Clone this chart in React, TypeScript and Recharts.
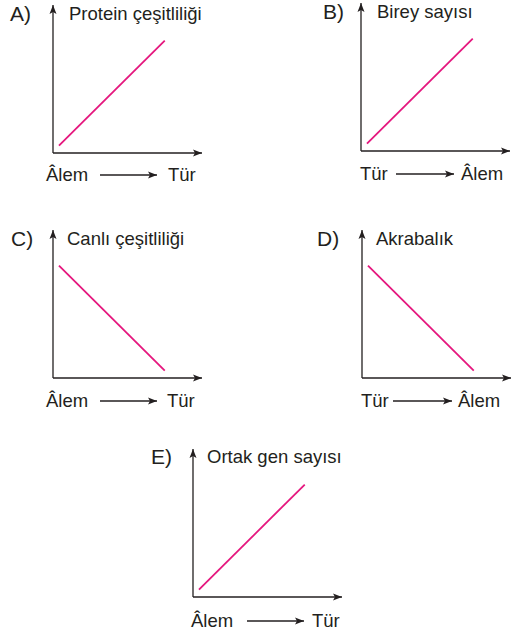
import React from 'react';
import { LineChart, Line, XAxis, YAxis } from 'recharts';

// ---- data ----
const LETTERS = ['A)', 'B)', 'C)', 'D)', 'E)'];
const TITLES = ['Protein çeşitliliği', 'Birey sayısı', 'Canlı çeşitliliği', 'Akrabalık', 'Ortak gen sayısı'];
const FROM_LABELS = ['Âlem', 'Tür', 'Âlem', 'Tür', 'Âlem'];
const TO_LABELS = ['Tür', 'Âlem', 'Tür', 'Âlem', 'Tür'];
const X_VALUES = [4, 75];
const RISING = [5, 76];
const FALLING = [76, 5];
const SERIES = [RISING, RISING, FALLING, FALLING, RISING];

// ---- styling / layout ----
const INK = '#231f20';
const MAGENTA = '#e5177e';
const FONT = '"Liberation Sans", Arial, Helvetica, sans-serif';
const W = 215;
const H = 192;

const LAYOUT = [
  { left: 0, top: 0, letterX: 10, titleX: 69, titleY: 20, fromX: 46, arrow: [100, 157], toX: 168, labelY: 181 },
  { left: 308, top: -2, letterX: 15, titleX: 69, titleY: 20, fromX: 52, arrow: [88, 146], toX: 153, labelY: 182 },
  { left: 0, top: 225, letterX: 11, titleX: 67, titleY: 20, fromX: 46, arrow: [100, 157], toX: 167, labelY: 182 },
  { left: 309, top: 225, letterX: 8, titleX: 67, titleY: 20, fromX: 52, arrow: [84, 143], toX: 149, labelY: 182 },
  { left: 140, top: 444, letterX: 11, titleX: 67, titleY: 19, fromX: 51, arrow: [107, 164], toX: 172, labelY: 183 },
];

function Panel({ i }: { i: number }) {
  const p = LAYOUT[i];
  const data = X_VALUES.map((x, k) => ({ x, y: SERIES[i][k] }));
  const id = `arrow-${i}`;
  return (
    <div style={{ position: 'absolute', left: p.left, top: p.top, width: W, height: H }}>
      <LineChart width={W} height={H} data={data} margin={{ top: 5, right: 13, left: 52, bottom: 38 }}>
        <defs>
          <marker
            id={id}
            markerUnits="userSpaceOnUse"
            markerWidth={10}
            markerHeight={8}
            refX={9}
            refY={4}
            orient="auto-start-reverse"
          >
            <path d="M0,0.5 L9,4 L0,7.5 L2,4 z" fill={INK} />
          </marker>
        </defs>
        <XAxis
          type="number"
          dataKey="x"
          domain={[0, 100]}
          tick={false}
          tickLine={false}
          height={1}
          axisLine={{ stroke: INK, strokeWidth: 1.3, markerEnd: `url(#${id})` }}
        />
        <YAxis
          type="number"
          domain={[0, 100]}
          tick={false}
          tickLine={false}
          width={1}
          axisLine={{ stroke: INK, strokeWidth: 1.3, markerStart: `url(#${id})` }}
        />
        <Line
          type="linear"
          dataKey="y"
          stroke={MAGENTA}
          strokeWidth={1.8}
          dot={false}
          activeDot={false}
          isAnimationActive={false}
        />
        <text x={p.letterX} y={p.titleY + 1} fontFamily={FONT} fontSize={21} fill={INK}>
          {LETTERS[i]}
        </text>
        <text x={p.titleX} y={p.titleY} fontFamily={FONT} fontSize={18.5} fill={INK}>
          {TITLES[i]}
        </text>
        <text x={p.fromX} y={p.labelY} fontFamily={FONT} fontSize={18.5} fill={INK}>
          {FROM_LABELS[i]}
        </text>
        <line
          x1={p.arrow[0]}
          x2={p.arrow[1]}
          y1={p.labelY - 6}
          y2={p.labelY - 6}
          stroke={INK}
          strokeWidth={1.3}
          markerEnd={`url(#${id})`}
        />
        <text x={p.toX} y={p.labelY} fontFamily={FONT} fontSize={18.5} fill={INK}>
          {TO_LABELS[i]}
        </text>
      </LineChart>
    </div>
  );
}

export default function App() {
  return (
    <div style={{ position: 'absolute', left: 0, top: 0, width: 516, height: 637, background: '#fff', overflow: 'hidden' }}>
      {LAYOUT.map((_, i) => (
        <Panel key={i} i={i} />
      ))}
    </div>
  );
}
